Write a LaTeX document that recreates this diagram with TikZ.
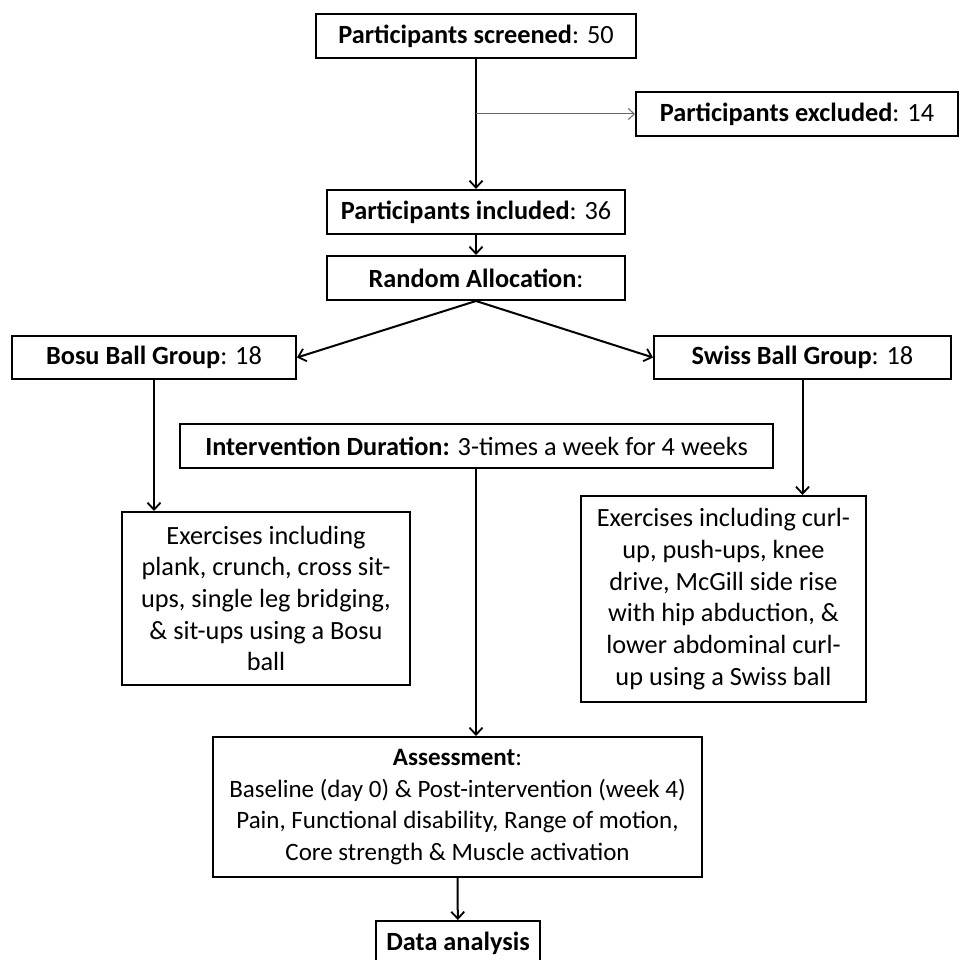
\documentclass[tikz,border=0pt]{standalone}
\usepackage{fontspec}
\setmainfont{Carlito}
\usetikzlibrary{arrows.meta}

\begin{document}
\begin{tikzpicture}[x=1pt, y=-1pt,
		box/.style={draw, line width=2pt, align=center, inner sep=2pt,
			font=\fontsize{26.3}{31.7}\selectfont},
		smallbox/.style={box, font=\fontsize{25}{31.7}\selectfont},
		arr/.style={line width=2pt, -{Straight Barb[length=7pt, width=13pt, line width=1.8pt]}},
		thinarr/.style={line width=1pt, draw=black!60, -{Straight Barb[length=6pt, width=11pt, line width=1pt]}}]
		\useasboundingbox (0,0) rectangle (958,960);

		\node[box, minimum width=320, minimum height=44] (screened) at (476, 36) {\textbf{Participants screened}: 50};
		\node[box, minimum width=322, minimum height=44] (excluded) at (797, 114) {\textbf{Participants excluded}: 14};
		\node[box, minimum width=298, minimum height=44] (included) at (476, 212) {\textbf{Participants included}: 36};
		\node[box, minimum width=298, minimum height=44] (random) at (476, 278) {\textbf{Random Allocation}:};
		\node[box, minimum width=284, minimum height=43] (bosu) at (154, 357.5) {\textbf{Bosu Ball Group}: 18};
		\node[box, minimum width=297, minimum height=43] (swiss) at (802.5, 357.5) {\textbf{Swiss Ball Group}: 18};
		\node[box, minimum width=593, minimum height=44] (duration) at (476.5, 446) {\textbf{Intervention Duration:} 3-times a week for 4 weeks};
		\node[box, minimum width=288, minimum height=173] (bosuex) at (266, 598.5) {Exercises including\\plank, crunch, cross sit-\\ups, single leg bridging,\\\& sit-ups using a Bosu\\ball};
		\node[box, minimum width=285, minimum height=206] (swissex) at (723.5, 599) {Exercises including curl-\\up, push-ups, knee\\drive, McGill side rise\\with hip abduction, \&\\lower abdominal curl-\\up using a Swiss ball};
		\node[smallbox, minimum width=489, minimum height=140] (assess) at (457.5, 807) {\textbf{Assessment}:\\Baseline (day 0) \& Post-intervention (week 4)\\Pain, Functional disability, Range of motion,\\Core strength \& Muscle activation};
		\node[box, minimum width=164, minimum height=45] (analysis) at (458, 943.5) {\textbf{Data analysis}};

		\coordinate (split) at (476, 114);

		\draw[arr] (screened) -- (included);
		\draw[thinarr] (split) -- (excluded);
		\draw[arr] (included) -- (random);
		\draw[arr] (random.south) -- (bosu.east);
		\draw[arr] (random.south) -- (swiss.west);
		\draw[arr] (bosu.south) -- (bosu.south |- bosuex.north);
		\draw[arr] (swiss.south) -- (swiss.south |- swissex.north);
		\draw[arr] (duration.south -| split) -- (split |- assess.north);
		\draw[arr] (assess.south) -- (analysis);

	\end{tikzpicture}
\end{document}
